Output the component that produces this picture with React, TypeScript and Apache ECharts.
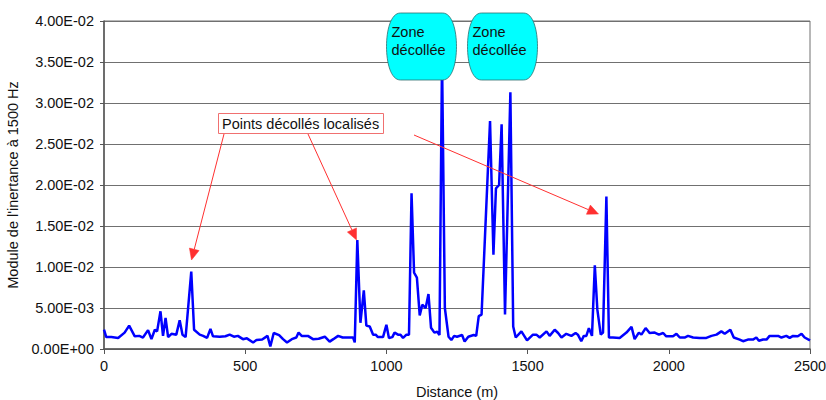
import React, { useEffect, useRef } from "react";
import * as echarts from "echarts";

// Distance (m) of each vertex
const distances: number[] = [
  0, 8, 26, 50, 73, 89, 109, 125, 138, 156, 168, 180, 188, 200, 209, 218, 227, 239, 256, 268,
  278, 289, 309, 319, 339, 351, 365, 377, 386, 410, 430, 445, 460, 474, 492, 506, 528, 540, 560, 579,
  589, 601, 620, 634, 648, 665, 681, 689, 700, 722, 740, 760, 782, 799, 812, 829, 845, 860, 882, 888,
  897, 908, 920, 929, 941, 953, 962, 970, 988, 1000, 1009, 1021, 1029, 1041, 1050, 1059, 1071, 1080, 1089, 1098,
  1108, 1118, 1127, 1139, 1149, 1158, 1170, 1180, 1188, 1197, 1207, 1220, 1230, 1240, 1250, 1268, 1277, 1290, 1309, 1318,
  1327, 1337, 1367, 1379, 1388, 1399, 1408, 1420, 1439, 1449, 1458, 1478, 1498, 1519, 1531, 1543, 1567, 1578, 1596, 1608,
  1620, 1637, 1655, 1670, 1678, 1690, 1699, 1708, 1717, 1728, 1738, 1747, 1759, 1767, 1779, 1788, 1802, 1826, 1850, 1868,
  1879, 1894, 1903, 1918, 1932, 1950, 1965, 1980, 1991, 2015, 2027, 2039, 2056, 2068, 2086, 2109, 2133, 2151, 2169, 2186,
  2198, 2218, 2230, 2251, 2263, 2280, 2298, 2310, 2319, 2334, 2346, 2357, 2387, 2399, 2416, 2428, 2440, 2457, 2470, 2481,
  2500,
];

// Inertance modulus at 1500 Hz, in units of 1e-3
const inertanceMilli: number[] = [
  2.35, 1.45, 1.45, 1.35, 2.0, 2.85, 1.55, 1.6, 1.4, 2.3, 1.2, 2.35, 2.15, 4.6, 1.6, 3.8, 1.45, 1.85, 1.75, 3.5,
  1.75, 1.45, 9.45, 2.35, 1.75, 1.6, 1.35, 2.45, 1.55, 1.5, 1.55, 1.75, 1.5, 1.6, 1.2, 1.3, 0.8, 1.1, 1.15, 1.6,
  0.3, 1.95, 1.7, 1.2, 0.8, 1.2, 1.4, 2.0, 1.6, 1.6, 1.2, 1.25, 1.5, 0.9, 1.2, 1.6, 1.4, 1.4, 1.4, 0.8,
  13.3, 3.2, 7.15, 2.85, 2.75, 1.75, 1.75, 1.45, 1.45, 2.95, 1.35, 1.45, 2.0, 1.75, 1.75, 1.35, 1.75, 1.75, 19.0, 9.3,
  8.7, 4.1, 5.4, 5.0, 6.7, 2.6, 2.0, 2.1, 1.7, 35.5, 5.0, 1.5, 1.1, 1.6, 1.5, 1.7, 0.9, 1.5, 1.7, 1.6,
  4.0, 4.2, 27.8, 11.5, 19.6, 20.0, 27.4, 4.2, 31.3, 2.75, 1.4, 2.15, 1.05, 1.75, 1.75, 1.4, 2.15, 1.6, 2.35, 1.95,
  1.4, 1.85, 1.6, 1.95, 1.75, 0.95, 1.6, 1.6, 2.55, 1.6, 10.2, 4.8, 1.75, 2.0, 18.6, 1.4, 1.4, 1.35, 2.0, 2.7,
  1.2, 2.0, 1.75, 2.55, 1.95, 2.0, 1.75, 1.95, 1.55, 1.55, 1.85, 1.4, 1.4, 1.6, 1.4, 1.35, 1.35, 1.6, 1.75, 2.15,
  1.85, 2.35, 1.4, 1.15, 0.95, 1.15, 1.15, 1.4, 1.0, 1.15, 1.15, 1.6, 1.6, 1.4, 1.6, 1.35, 1.6, 1.55, 1.85, 1.4,
  1.05,
];

const xTicks: number[] = [0, 500, 1000, 1500, 2000, 2500];
const yTicks: number[] = [0, 0.005, 0.01, 0.015, 0.02, 0.025, 0.03, 0.035, 0.04];

const yTitle = "Module de l'inertance à 1500 Hz";
const xTitle = "Distance (m)";
const calloutText = "Points décollés localisés";
const zoneText = "Zone\ndécollée";

const FONT = "Liberation Sans, Arial, sans-serif";
const FS = 14.5;

function sci(v: number): string {
  if (v === 0) return "0.00E+00";
  const [m, e] = v.toExponential(2).split("e");
  const n = parseInt(e, 10);
  const sign = n < 0 ? "-" : "+";
  const abs = Math.abs(n);
  return `${m}E${sign}${abs < 10 ? "0" + abs : abs}`;
}

function arrow(x1: number, y1: number, x2: number, y2: number, color: string) {
  const dx = x2 - x1;
  const dy = y2 - y1;
  const len = Math.sqrt(dx * dx + dy * dy);
  const ux = dx / len;
  const uy = dy / len;
  const hl = 11;
  const hw = 5;
  const bx = x2 - ux * hl;
  const by = y2 - uy * hl;
  return [
    {
      type: "line",
      z: 100,
      shape: { x1, y1, x2: bx, y2: by },
      style: { stroke: color, lineWidth: 1 },
    },
    {
      type: "polygon",
      z: 100,
      shape: {
        points: [
          [x2, y2],
          [bx - uy * hw, by + ux * hw],
          [bx + uy * hw, by - ux * hw],
        ],
      },
      style: { fill: color, stroke: color, lineWidth: 0.5 },
    },
  ];
}

let registered = false;

export default function App() {
  const ref = useRef<HTMLDivElement>(null);

  useEffect(() => {
    if (!ref.current) return;
    if (!registered) {
      echarts.graphic.registerShape(
        "barrel",
        echarts.graphic.extendPath(
          "M14 0 H56 C66 0 70 18 70 33.5 C70 49 66 67 56 67 H14 C4 67 0 49 0 33.5 C0 18 4 0 14 0 Z",
          {}
        )
      );
      registered = true;
    }
    const chart = echarts.init(ref.current, null, { renderer: "svg" });
    const data = distances.map((d, i) => [d, inertanceMilli[i] / 1000]);
    const red = "#ff3030";
    const zoneBox = (x: number) => [
      {
        type: "barrel",
        z: 100,
        x,
        y: 13,
        style: { fill: "#00ffff", stroke: "#2e6e6e", lineWidth: 0.8 },
      },
      {
        type: "text",
        z: 101,
        x: x + 5,
        y: 23,
        style: {
          text: zoneText,
          font: `${FS}px ${FONT}`,
          fill: "#111",
          lineHeight: 18,
        },
      },
    ];
    chart.setOption({
      animation: false,
      backgroundColor: "#fff",
      grid: {
        left: 104,
        right: 16,
        top: 21,
        bottom: 51,
        show: true,
        borderColor: "#707070",
        borderWidth: 1,
        containLabel: false,
        outerBoundsMode: "none",
      },
      xAxis: {
        type: "value",
        min: xTicks[0],
        max: xTicks[xTicks.length - 1],
        interval: xTicks[1] - xTicks[0],
        name: xTitle,
        nameLocation: "middle",
        nameGap: 35,
        nameTextStyle: { fontFamily: FONT, fontSize: FS, color: "#111" },
        axisLine: { show: true, onZero: false, lineStyle: { color: "#555", width: 1.5 } },
        axisTick: { show: true, length: 5, lineStyle: { color: "#555" } },
        axisLabel: {
          fontFamily: FONT,
          fontSize: FS,
          color: "#111",
          margin: 9,
          formatter: (v: number) => String(v),
        },
        splitLine: { show: false },
      },
      yAxis: {
        type: "value",
        min: yTicks[0],
        max: yTicks[yTicks.length - 1],
        interval: yTicks[1] - yTicks[0],
        name: yTitle,
        nameLocation: "middle",
        nameGap: 78,
        nameTextStyle: { fontFamily: FONT, fontSize: FS, color: "#111" },
        axisLine: { show: true, lineStyle: { color: "#555", width: 1.5 } },
        axisTick: { show: true, length: 4, lineStyle: { color: "#555" } },
        axisLabel: {
          fontFamily: FONT,
          fontSize: FS,
          color: "#111",
          margin: 10,
          formatter: (v: number) => sci(v),
        },
        splitLine: { show: true, lineStyle: { color: "#707070", width: 1 } },
      },
      series: [
        {
          type: "line",
          data,
          showSymbol: false,
          symbol: "none",
          lineStyle: { color: "#0000ff", width: 2.5 },
          z: 3,
        },
      ],
      graphic: [
        {
          type: "rect",
          z: 100,
          shape: { x: 218.5, y: 113.5, width: 165, height: 20 },
          style: { fill: "#fff", stroke: "#f07070", lineWidth: 1 },
        },
        {
          type: "text",
          z: 101,
          x: 222,
          y: 123.5,
          style: {
            text: calloutText,
            font: `${FS}px ${FONT}`,
            fill: "#111",
            verticalAlign: "middle",
          },
        },
        ...arrow(224, 134, 191.5, 260, red),
        ...arrow(308, 134, 356.5, 240, red),
        ...arrow(414, 135, 598.5, 214, red),
        ...zoneBox(386.5),
        ...zoneBox(467.5),
      ],
    });
    return () => chart.dispose();
  }, []);

  return (
    <div
      ref={ref}
      style={{ position: "fixed", left: 0, top: 0, width: 826, height: 400, background: "#fff" }}
    />
  );
}
